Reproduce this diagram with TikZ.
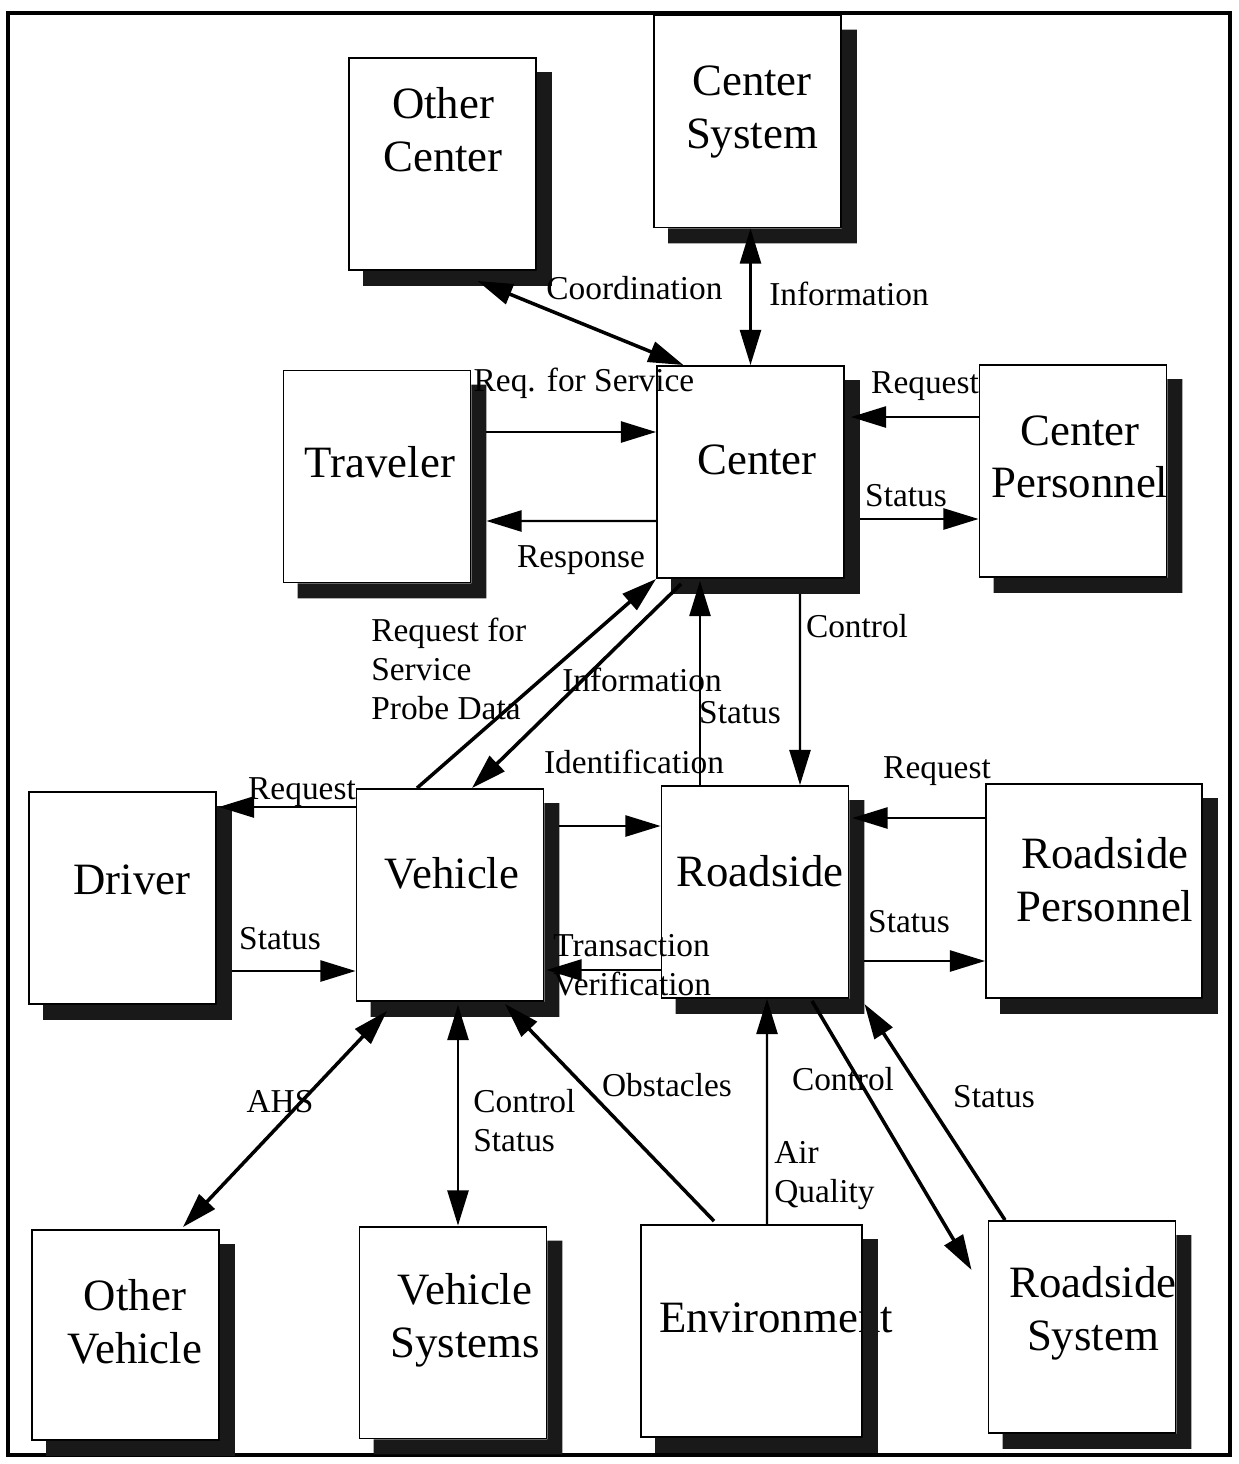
\documentclass[tikz,border=0pt]{standalone}
\usepackage{fontspec}
\setmainfont{Liberation Serif}
\usetikzlibrary{arrows.meta,calc}

\begin{document}
\begin{tikzpicture}[x=0.02cm,y=-0.02cm,
  blk/.style={draw,fill=white,line width=1.1pt,minimum width=3.74cm,minimum height=4.24cm,inner sep=0pt},
  shade/.style={fill=black!90},
  boxtxt/.style={font=\fontsize{25.5}{30}\selectfont,align=center,inner sep=0pt},
  lbl/.style={font=\fontsize{19}{22}\selectfont,inner sep=0pt},
  lbll/.style={lbl,align=left,anchor=north west},
  flow/.style={line width=1.3pt,-{Triangle[length=20pt,width=12pt]}},
  twoway/.style={flow,{Triangle[length=20pt,width=12pt]}-{Triangle[length=20pt,width=12pt]}},
  heavy/.style={line width=2pt}]
  \useasboundingbox (0,0) rectangle (1239,1464);
  \draw[line width=2.8pt] (8,13) rectangle (1230,1455);

  % boxes
  \node[blk] (ocen) at (442.5,164) {};
  \node[blk] (csys) at (747.5,121.5) {};
  \node[blk] (trav) at (377,476.5) {};
  \node[blk] (ctr) at (750.5,472) {};
  \node[blk] (cper) at (1073,471) {};
  \node[blk] (drv) at (122.5,898) {};
  \node[blk] (veh) at (450,895) {};
  \node[blk] (rds) at (755,892) {};
  \node[blk,minimum width=4.32cm,minimum height=4.28cm] (rper) at (1094,891) {};
  \node[blk,minimum height=4.2cm] (ovh) at (125.5,1335) {};
  \node[blk] (vsys) at (453,1332.5) {};
  \node[blk,minimum width=4.42cm] (env) at (751.5,1331) {};
  \node[blk] (rsys) at (1082,1327) {};

  \node[boxtxt] (ocen-t) at (443,130) {Other\\Center};
  \node[boxtxt] (csys-t) at (752,112) {Center\\System};
  \node[boxtxt] (trav-t) at (380,462) {Traveler};
  \node[boxtxt] (ctr-t) at (757,460) {Center};
  \node[boxtxt] (cper-t) at (1080,457) {Center\\Personnel};
  \node[boxtxt] (drv-t) at (132,880) {Driver};
  \node[boxtxt] (veh-t) at (452,873) {Vehicle};
  \node[boxtxt] (rds-t) at (760,871) {Roadside};
  \node[boxtxt] (rper-t) at (1105,880) {Roadside\\Personnel};
  \node[boxtxt] (ovh-t) at (135,1322) {Other\\Vehicle};
  \node[boxtxt] (vsys-t) at (465,1320) {Vehicle\\Systems};
  \node[boxtxt] (env-t) at (776,1318) {Environment};
  \node[boxtxt] (rsys-t) at (1093,1313) {Roadside\\System};

  % shadows, over any text that runs past a box
  \foreach \b in {ocen,csys,trav,ctr,cper,drv,veh,rds,rper,ovh,vsys,env,rsys}
    \fill[shade] ($(\b.north east)+(0,15)$) -- ++(15,0) |- ($(\b.south west)+(15,15)$)
      -- ++(0,-15) -- (\b.south east) -- cycle;

  % flows
  \draw[twoway,heavy] ($(ocen.south)+(35,10)$) -- ($(ctr.north)+(-67,0)$);
  \draw[twoway] (csys.south -| ctr.north) -- (ctr.north);
  \draw[flow] ($(trav.east)+(15,-44.5)$) -- ($(ctr.west)+(0,-40)$);
  \draw[flow] ($(ctr.west)+(0,49)$) -- ($(trav.east)+(15,44.5)$);
  \draw[flow] ($(cper.west)+(0,-54)$) -- ($(ctr.east)+(6,-55)$);
  \draw[flow] ($(ctr.east)+(15,47)$) -- ($(cper.west)+(0,48)$);
  \draw[flow,heavy] ($(veh.north)+(-33,0)$) -- (ctr.south west);
  \draw[flow,heavy] ($(ctr.south west)+(25,5)$) -- ($(veh.north)+(22,0)$);
  \draw[flow] ($(rds.north)+(-55,0)$) -- ($(ctr.south)+(-50.5,2)$);
  \draw[flow] ($(ctr.south)+(49.5,15)$) -- ($(rds.north)+(45,0)$);
  \draw[flow] ($(veh.west)+(0,-88)$) -- ($(drv.east)+(2,-91)$);
  \draw[flow] ($(drv.east)+(15,73)$) -- ($(veh.west)+(0,76)$);
  \draw[flow] ($(veh.east)+(15,-69)$) -- ($(rds.west)+(0,-66)$);
  \draw[flow] ($(rds.west)+(0,78)$) -- ($(veh.east)+(2,75)$);
  \draw[flow] ($(rper.west)+(0,-73)$) -- ($(rds.east)+(3,-74)$);
  \draw[flow] ($(rds.east)+(15,69)$) -- ($(rper.west)+(0,70)$);
  \draw[twoway,heavy] ($(veh.south)+(-63,9)$) -- ($(ovh.north)+(57.5,-2)$);
  \draw[twoway] ($(veh.south)+(8,3)$) -- ($(vsys.north)+(5,0)$);
  \draw[flow,heavy] ($(env.north)+(-37.5,-3)$) -- ($(veh.south)+(55,2)$);
  \draw[flow] ($(env.north)+(15.5,0)$) -- ($(rds.south)+(12,0)$);
  \draw[flow,heavy] ($(rds.south)+(57,2)$) -- ($(rsys.west)+(-16,-57)$);
  \draw[flow,heavy] ($(rsys.north)+(-77,0)$) -- ($(rds.south east)+(15,5)$);

  % flow labels
  \node[lbl] (l-coord) at (634.5,288) {Coordination};
  \node[lbl] (l-info1) at (849,294) {Information};
  \node[lbl] (l-req1) at (584,383) {Req. for Service};
  \node[lbl] (l-req2) at (925,386) {Request};
  \node[lbl] (l-stat1) at (906,496) {Status};
  \node[lbl] (l-resp) at (581,560) {Response};
  \node[lbll] (l-probe) at (371,618) {Request for\\Service\\Probe Data};
  \node[lbl] (l-info2) at (642,680) {Information};
  \node[lbl] (l-stat2) at (740,713) {Status};
  \node[lbl] (l-ctl1) at (857,626) {Control};
  \node[lbl] (l-ident) at (634,762) {Identification};
  \node[lbl] (l-req3) at (302,792) {Request};
  \node[lbl] (l-req4) at (937,771) {Request};
  \node[lbl] (l-stat3) at (280,939) {Status};
  \node[lbl] (l-stat4) at (909,922) {Status};
  \node[lbll] (l-trans) at (553,934) {Transaction\\Verification};
  \node[lbl] (l-ahs) at (280,1102) {AHS};
  \node[lbll] (l-ctlst) at (473,1089) {Control\\Status};
  \node[lbl] (l-obst) at (667,1085) {Obstacles};
  \node[lbl] (l-ctl2) at (843,1079) {Control};
  \node[lbl] (l-stat5) at (994,1097) {Status};
  \node[lbll] (l-air) at (774,1141) {Air\\Quality};
\end{tikzpicture}
\end{document}
